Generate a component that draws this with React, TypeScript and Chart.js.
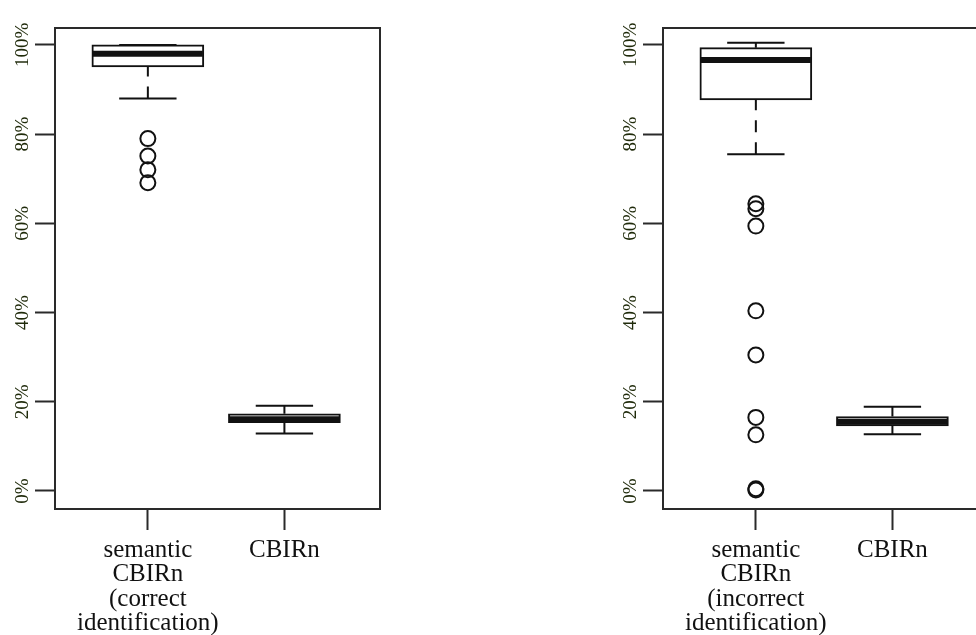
import React, { useEffect, useRef } from "react";
import { Chart, registerables } from "chart.js";

Chart.register(...registerables);

// ---------- data ----------
const BOX_POSITIONS = [1, 2];
const Y_TICKS = [0, 20, 40, 60, 80, 100];

const LEFT_LABELS = [["semantic", "CBIRn", "(correct", "identification)"], ["CBIRn"]];
const LEFT_LOW = [88, 12.9];
const LEFT_Q1 = [95.1, 15.3];
const LEFT_MEDIAN = [98, 16.1];
const LEFT_Q3 = [100, 17.3];
const LEFT_HIGH = [100, 19.1];
const LEFT_OUTLIERS = [[79, 75.1, 72, 69.1], []];

const RIGHT_LABELS = [["semantic", "CBIRn", "(incorrect", "identification)"], ["CBIRn"]];
const RIGHT_LOW = [75.5, 12.7];
const RIGHT_Q1 = [87.7, 14.6];
const RIGHT_MEDIAN = [96.6, 15.5];
const RIGHT_Q3 = [99.4, 16.7];
const RIGHT_HIGH = [100.5, 18.9];
const RIGHT_OUTLIERS = [[64.4, 63.3, 59.4, 40.4, 30.5, 16.5, 12.6, 0.5, 0.2], []];

// ---------- styles ----------
const INK = "#111";
const FRAME = "#2a2a2a";
const Y_LABEL_COLOR = "#1f2a0a";
const SERIF = "'Liberation Serif', 'Times New Roman', serif";

type PanelProps = {
  labels: string[][];
  low: number[];
  q1: number[];
  median: number[];
  q3: number[];
  high: number[];
  outliers: number[][];
  padLeft: number;
  padRight: number;
  width: number;
};

function Panel(props: PanelProps) {
  const ref = useRef<HTMLCanvasElement | null>(null);

  useEffect(() => {
    const canvas = ref.current;
    if (!canvas) return;
    const { labels, low, q1, median, q3, high, outliers } = props;

    const boxData = BOX_POSITIONS.map((x, i) => ({ x, y: [q1[i], q3[i]] }));
    const outlierData: { x: number; y: number }[] = [];
    BOX_POSITIONS.forEach((x, i) => outliers[i].forEach((y) => outlierData.push({ x, y })));

    const boxPlugin = {
      id: "boxParts",
      afterDatasetsDraw(chart: any) {
        const ctx = chart.ctx;
        const xs = chart.scales.x;
        const ys = chart.scales.y;
        ctx.save();
        ctx.strokeStyle = INK;
        BOX_POSITIONS.forEach((pos, i) => {
          const cx = xs.getPixelForValue(pos);
          const capHalf = xs.getPixelForValue(pos + 0.21) - cx;
          const yLow = ys.getPixelForValue(low[i]);
          const yQ1 = ys.getPixelForValue(q1[i]);
          const yQ3 = ys.getPixelForValue(q3[i]);
          const yHigh = ys.getPixelForValue(high[i]);
          const yMed = ys.getPixelForValue(median[i]);
          // whiskers (dashed, starting from the extreme)
          ctx.lineWidth = 2;
          ctx.setLineDash([12, 10]);
          ctx.beginPath();
          ctx.moveTo(cx, yLow);
          ctx.lineTo(cx, yQ1);
          ctx.moveTo(cx, yHigh);
          ctx.lineTo(cx, yQ3);
          ctx.stroke();
          ctx.setLineDash([]);
          // caps
          ctx.beginPath();
          ctx.moveTo(cx - capHalf, yLow);
          ctx.lineTo(cx + capHalf, yLow);
          ctx.moveTo(cx - capHalf, yHigh);
          ctx.lineTo(cx + capHalf, yHigh);
          ctx.stroke();
          // median
          ctx.lineWidth = 6;
          ctx.beginPath();
          ctx.moveTo(cx - 55, yMed);
          ctx.lineTo(cx + 55, yMed);
          ctx.stroke();
        });
        // frame (top + right)
        const a = chart.chartArea;
        ctx.strokeStyle = FRAME;
        ctx.lineWidth = 2;
        ctx.beginPath();
        ctx.moveTo(a.left, a.top);
        ctx.lineTo(a.right, a.top);
        ctx.lineTo(a.right, a.bottom);
        ctx.stroke();
        ctx.restore();
      },
    };

    const chart = new Chart(canvas, {
      type: "bar",
      data: {
        datasets: [
          {
            type: "scatter",
            data: outlierData,
            pointStyle: "circle",
            pointRadius: 7.5,
            pointBorderWidth: 2,
            pointBorderColor: INK,
            pointBackgroundColor: "rgba(0,0,0,0)",
            borderColor: INK,
            backgroundColor: "rgba(0,0,0,0)",
          } as any,
          {
            type: "bar",
            data: boxData as any,
            backgroundColor: "#ffffff",
            borderColor: INK,
            borderWidth: 2,
            borderSkipped: false,
            barThickness: 112,
          } as any,
        ],
      },
      options: {
        responsive: false,
        animation: false,
        devicePixelRatio: 1,
        layout: { padding: { left: props.padLeft, right: props.padRight, top: 28, bottom: 0 } },
        plugins: { legend: { display: false }, tooltip: { enabled: false } },
        scales: {
          x: {
            type: "linear",
            min: 0.32,
            max: 2.7,
            offset: false,
            afterBuildTicks: (s: any) => {
              s.ticks = BOX_POSITIONS.map((v) => ({ value: v }));
            },
            afterFit: (s: any) => {
              s.height = 126;
            },
            grid: {
              offset: false,
              drawOnChartArea: false,
              drawTicks: true,
              tickLength: 21,
              tickWidth: 2,
              tickColor: FRAME,
            },
            border: { display: true, color: FRAME, width: 2 },
            ticks: {
              autoSkip: false,
              maxRotation: 0,
              minRotation: 0,
              padding: 8,
              color: INK,
              font: { family: SERIF, size: 25, lineHeight: 0.98 },
              callback: (v: any) => {
                const idx = BOX_POSITIONS.indexOf(Number(v));
                return idx >= 0 ? labels[idx] : "";
              },
            },
          },
          y: {
            type: "linear",
            min: -4.04,
            max: 103.8,
            afterBuildTicks: (s: any) => {
              s.ticks = Y_TICKS.map((v) => ({ value: v }));
            },
            afterFit: (s: any) => {
              s.width = 55;
            },
            grid: {
              drawOnChartArea: false,
              drawTicks: true,
              tickLength: 20,
              tickWidth: 2,
              tickColor: FRAME,
            },
            border: { display: true, color: FRAME, width: 2 },
            ticks: {
              minRotation: 90,
              maxRotation: 90,
              crossAlign: "center",
              padding: -10.5,
              color: Y_LABEL_COLOR,
              font: { family: SERIF, size: 19 },
              callback: (v: any) => v + "%",
            },
          },
        },
      },
      plugins: [boxPlugin],
    } as any);

    return () => chart.destroy();
  }, []);

  return <canvas ref={ref} width={props.width} height={635} style={{ display: "block" }} />;
}

export default function App() {
  return (
    <div
      style={{
        position: "fixed",
        left: 0,
        top: 0,
        width: 976,
        height: 635,
        overflow: "hidden",
        background: "#ffffff",
      }}
    >
      <div style={{ position: "absolute", left: 0, top: 0 }}>
        <Panel
          labels={LEFT_LABELS}
          low={LEFT_LOW}
          q1={LEFT_Q1}
          median={LEFT_MEDIAN}
          q3={LEFT_Q3}
          high={LEFT_HIGH}
          outliers={LEFT_OUTLIERS}
          padLeft={0}
          padRight={60}
          width={440}
        />
      </div>
      <div style={{ position: "absolute", left: 580, top: 0 }}>
        <Panel
          labels={RIGHT_LABELS}
          low={RIGHT_LOW}
          q1={RIGHT_Q1}
          median={RIGHT_MEDIAN}
          q3={RIGHT_Q3}
          high={RIGHT_HIGH}
          outliers={RIGHT_OUTLIERS}
          padLeft={28}
          padRight={32}
          width={440}
        />
      </div>
    </div>
  );
}
